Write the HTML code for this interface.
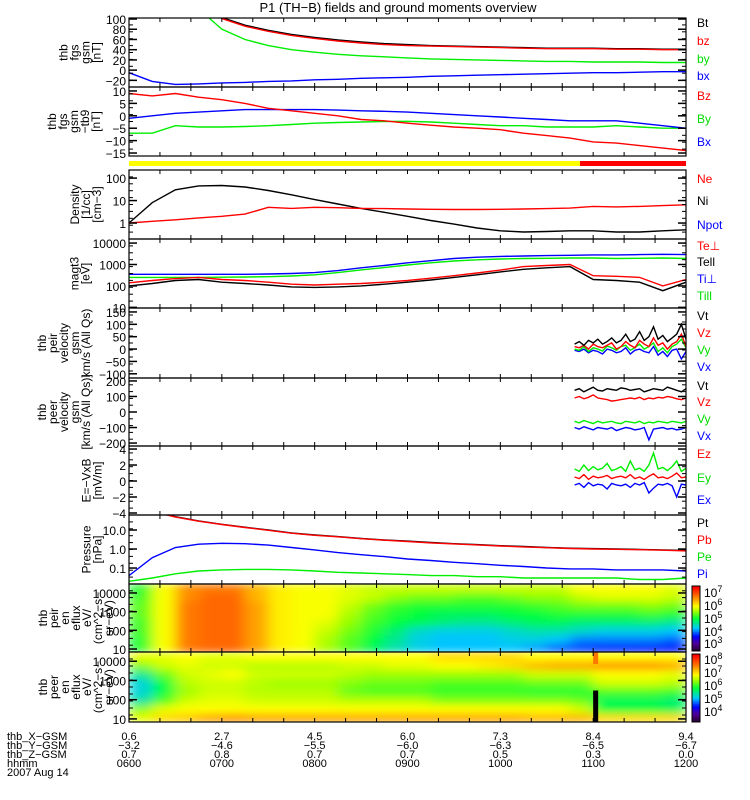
<!DOCTYPE html>
<html><head><meta charset="utf-8">
<style>
html,body{margin:0;padding:0;background:#fff;}
svg{display:block;font-family:"Liberation Sans",sans-serif;}
</style></head>
<body>
<svg id="chart" width="750" height="800" viewBox="0 0 750 800" xmlns="http://www.w3.org/2000/svg">
<defs>
<filter id="sblur" x="0" y="0" width="1" height="1"><feGaussianBlur stdDeviation="7 4" edgeMode="duplicate"/></filter>
</defs>
<text x="398" y="12" font-size="13" text-anchor="middle">P1 (TH−B) fields and ground moments overview</text>
</svg>
<script>
// ---------- data ----------
const T = [6,6.25,6.5,6.75,7,7.25,7.5,7.75,8,8.25,8.5,8.75,9,9.25,9.5,9.75,10,10.25,10.5,10.75,11,11.25,11.5,11.75,12];
const Bt = [300,250,200,160,103,88,78,70,64,59,55,52,50,48,47,46,45,44,43,43,43,42,42,41,41];
const bz = [298,248,198,158,101,86,76,68,62,57,53,50,48,47,46,45,44,43,42,42,42,41,41,40,40];
const by = [250,200,150,120,80,60,48,40,35,31,28,26,24,22,21,20,19,18,17,17,16,16,16,15,15];
const bx = [-5,-22,-28,-27,-25,-24,-22,-21,-19,-18,-16,-15,-14,-12,-11,-10,-9,-8,-7,-6,-5,-5,-4,-3,-3];
const dBz = [9,8,9,7.5,6.5,5,3,2,1,0,-1.5,-2,-3,-3.8,-4.5,-5,-5.6,-7,-8,-9,-10.5,-11,-12,-13,-14];
const dBx = [-1,0,1,1.5,2,2.5,2.5,2.5,2.5,2.3,2,1.8,1.5,1,0.5,0,-0.5,-1,-1.5,-2,-2,-2,-3,-4,-5];
const dBy = [-7,-7,-4,-4.5,-4.5,-4.3,-4,-3.5,-3,-2.7,-2.5,-2.3,-2.2,-2.5,-3,-3.5,-4,-4,-4.5,-4.5,-4.5,-4,-4.5,-5,-5];
const Ne = [1,1.2,1.4,1.7,2,2.5,5,4.5,5,4.8,4.5,4.4,4.2,4.1,4.0,4.0,4.1,4.2,4.4,4.6,5.5,5.2,5.5,6,6.5];
const Ni = [1,8,30,45,47,40,28,18,11,7,4.5,3,2,1.3,0.9,0.6,0.45,0.4,0.42,0.45,0.45,0.4,0.4,0.45,0.5];
const TiPerp = [350,350,350,350,350,350,360,380,420,520,700,900,1200,1500,1900,2200,2400,2500,2600,2700,2800,2800,2900,3000,2900];
const TiPar = [250,250,250,250,255,260,270,290,330,420,560,720,950,1200,1450,1650,1800,1900,1950,2000,2000,1900,1950,2000,1900];
const TePerp = [140,180,220,250,200,180,150,120,110,120,130,150,180,230,300,400,550,800,900,1000,300,280,250,100,200];
const TePar = [100,130,180,200,150,130,110,90,85,90,100,120,150,190,250,330,450,600,700,800,200,180,150,60,150];
const Pt = [200,100,50,30,20,14,10,7,5.5,4.5,3.6,3,2.6,2.2,1.9,1.7,1.5,1.35,1.2,1.1,1.05,1.0,0.95,0.9,0.85];
const Pb = [195,97,48,29,19.4,13.6,9.7,6.8,5.3,4.4,3.5,2.9,2.5,2.1,1.85,1.65,1.45,1.3,1.17,1.07,1.0,0.97,0.92,0.87,0.8];
const Pi = [0.04,0.35,1.2,1.8,2.0,1.9,1.6,1.2,0.9,0.65,0.5,0.4,0.3,0.25,0.2,0.17,0.14,0.12,0.1,0.09,0.09,0.08,0.08,0.08,0.07];
const Pe = [0.02,0.03,0.05,0.07,0.08,0.085,0.085,0.08,0.07,0.06,0.055,0.05,0.045,0.04,0.04,0.035,0.035,0.03,0.03,0.03,0.03,0.03,0.025,0.025,0.03];
const Tv = [10.8,10.85,10.9,10.95,11,11.05,11.1,11.15,11.2,11.25,11.3,11.35,11.4,11.45,11.5,11.55,11.6,11.65,11.7,11.75,11.8,11.85,11.9,11.95,12];
const iVt = [20,30,15,35,25,40,20,30,45,25,35,60,30,40,70,35,50,90,40,55,30,45,60,100,40];
const iVz = [10,5,15,0,20,10,5,15,25,0,10,30,15,5,35,20,10,45,15,25,0,20,30,60,10];
const iVy = [0,-5,10,-10,5,0,-8,12,5,-5,10,15,-5,5,20,0,10,25,-10,5,-15,10,20,40,5];
const iVx = [-5,-10,0,-15,-5,-10,-20,0,-5,-15,-10,5,-20,-5,0,-10,-15,10,-25,-10,-30,-5,0,-40,-10];
const eVt = [140,150,130,145,160,140,135,150,145,140,155,150,140,145,150,130,140,150,145,140,160,150,140,130,150];
const eVz = [90,100,85,95,110,90,85,80,70,75,80,85,90,85,95,80,90,85,95,90,100,95,85,80,90];
const eVy = [-60,-70,-55,-65,-75,-60,-70,-65,-60,-70,-75,-60,-65,-70,-60,-75,-65,-70,-60,-65,-70,-60,-65,-70,-60];
const eVx = [-100,-110,-95,-105,-115,-100,-105,-110,-100,-120,-110,-100,-105,-115,-110,-100,-180,-110,-105,-100,-110,-105,-115,-110,-100];
const Ez = [0.5,0.3,0.8,0.2,0.6,0.4,0.5,0.7,0.3,0.5,0.6,0.4,0.8,0.3,0.5,0.2,0.6,0.9,0.4,0.5,0.3,0.6,1.0,0.4,0.5];
const Ey = [1.5,1.2,2,1.3,1.8,1.4,1.6,2.2,1.3,1.5,1.8,1.2,2.5,1.4,1.6,1.2,2,3.5,1.5,1.7,1.3,1.8,2.5,1.2,1.6];
const Ex = [-0.5,-0.3,-0.8,-0.2,-0.6,-0.4,-0.5,-1,-0.3,-0.5,-0.6,-0.4,-0.8,-0.3,-0.5,-0.2,-1.5,-0.9,-0.4,-0.5,-0.3,-0.6,-2,-0.4,-0.5];
// spectrograms: log10 flux, 24 time bins (15 min), 8 energy rows bottom->top
const ionSpec = [
[5.2,5.2,5.3,5.3,5.4,5.4,5.3,5.2],[6.0,6.0,6.0,6.0,6.0,6.0,6.0,6.0],[6.7,6.7,6.7,6.7,6.7,6.7,6.6,6.6],
[6.8,6.8,6.8,6.8,6.8,6.8,6.8,6.7],[6.8,6.8,6.8,6.8,6.8,6.8,6.8,6.7],[6.5,6.5,6.5,6.5,6.5,6.5,6.4,6.4],
[6.1,6.1,6.1,6.1,6.1,6.1,6.1,6.1],[6.0,6.0,6.0,6.0,6.0,6.0,6.0,6.0],[5.7,5.7,5.8,5.9,6.0,6.0,6.0,6.0],
[5.4,5.4,5.5,5.6,5.7,5.8,5.9,5.9],[5.0,5.1,5.2,5.3,5.4,5.5,5.8,5.8],[4.7,4.8,4.9,5.1,5.2,5.3,5.6,5.8],
[4.5,4.5,4.6,5.0,5.1,5.2,5.5,5.8],[4.4,4.4,4.5,4.9,5.0,5.2,5.5,5.8],[4.4,4.4,4.5,4.8,5.0,5.2,5.4,5.8],
[4.4,4.4,4.5,4.8,5.0,5.2,5.4,5.8],[4.4,4.5,4.6,4.9,5.1,5.2,5.5,5.8],[4.3,4.5,4.7,5.0,5.1,5.3,5.6,5.8],
[4.1,4.4,4.7,5.0,5.2,5.4,5.6,5.8],[4.0,4.2,4.6,4.9,5.2,5.5,5.8,6.0],[3.9,4.2,4.5,4.9,5.2,5.5,5.9,6.0],
[3.9,4.2,4.5,4.9,5.2,5.5,5.9,6.0],[3.8,4.2,4.5,4.9,5.3,5.6,5.9,6.0],[3.8,4.1,4.4,4.8,5.2,5.5,5.8,5.9]];
const eleSpec = [
[6.9,6.5,5.6,5.4,5.4,5.7,6.5,6.9],[7.2,6.9,6.3,6.0,6.0,6.4,6.8,6.9],[7.3,7.0,6.8,6.6,6.7,6.8,6.9,7.0],
[7.5,7.0,6.9,6.8,6.8,6.9,6.8,6.9],[7.6,7.0,6.9,6.8,6.8,7.0,6.8,6.9],[7.5,7.0,6.8,6.7,6.7,6.8,6.7,7.0],
[7.5,7.0,6.8,6.7,6.6,6.8,6.7,7.0],[7.5,7.0,6.8,6.7,6.6,6.8,6.7,7.0],[7.5,7.0,6.8,6.7,6.6,6.8,6.7,7.0],
[7.5,7.0,6.7,6.4,6.5,6.7,6.8,7.0],[7.5,7.0,6.7,6.3,6.4,6.6,6.8,7.0],[7.5,7.0,6.7,6.3,6.4,6.6,6.9,7.0],
[7.5,7.0,6.7,6.3,6.4,6.6,6.9,7.0],[7.5,7.0,6.5,6.2,6.3,6.6,7.0,7.2],[7.5,7.0,6.5,6.2,6.3,6.6,7.0,7.2],
[7.5,7.0,6.5,6.2,6.3,6.6,7.1,7.2],[7.5,7.0,6.5,6.2,6.3,6.6,7.2,7.2],[7.4,7.0,6.5,6.1,6.4,6.8,7.4,7.0],
[7.4,7.0,6.5,6.1,6.4,6.8,7.5,7.0],[7.4,6.8,6.4,6.1,6.4,6.8,7.5,7.0],[7.2,6.0,5.9,6.3,6.8,7.0,7.6,7.0],
[7.2,6.0,5.9,6.3,6.8,7.0,7.6,7.0],[7.2,6.0,5.9,6.3,6.8,7.0,7.6,7.0],[7.2,5.9,5.8,6.2,6.7,6.9,7.5,7.0]];
const hourTicks = ['0600','0700','0800','0900','1000','1100','1200'];
const xGsm = ['0.6','2.7','4.5','6.0','7.3','8.4','9.4'];
const yGsm = ['−3.2','−4.6','−5.5','−6.0','−6.3','−6.5','−6.7'];
const zGsm = ['0.7','0.8','0.7','0.7','0.5','0.3','0.0'];

// ---------- helpers ----------
const NS = 'http://www.w3.org/2000/svg';
const svg = document.getElementById('chart');
const X0 = 129, X1 = 686;
const xs = t => X0 + (t - 6) / 6 * (X1 - X0);
function mk(tag, attrs, parent) {
  const e = document.createElementNS(NS, tag);
  for (const k in attrs) e.setAttribute(k, attrs[k]);
  (parent || svg).appendChild(e);
  return e;
}
const panels = [];
function panel(name, top, bot, vmin, vmax, log) {
  const f = v => {
    const vv = log ? Math.log10(Math.max(v, 1e-6)) : v;
    return bot - (vv - vmin) / (vmax - vmin) * (bot - top);
  };
  const id = 'clip' + panels.length;
  const cp = mk('clipPath', {id: id});
  mk('rect', {x: X0, y: top, width: X1 - X0, height: bot - top}, cp);
  const g = mk('g', {'clip-path': 'url(#' + id + ')'});
  
  
  const p = {top, bot, f, g, name, log, vmin, vmax};
  panels.push(p);
  return p;
}
function line(p, ts, vs, color, name) {
  const pts = ts.map((t, i) => xs(t).toFixed(1) + ',' + p.f(vs[i]).toFixed(1)).join(' ');
  const el = mk('polyline', {points: pts, fill: 'none', stroke: color, 'stroke-width': 1.4}, p.g);
  
  
}
function frame(p, labels, vals) {
  const r = mk('rect', {x: X0, y: p.top, width: X1 - X0, height: p.bot - p.top, fill: 'none', stroke: '#000', 'stroke-width': 1.2});
  
  
  for (let m = 0; m <= 360; m += 20) {
    const x = xs(6 + m / 60);
    mk('line', {x1: x, x2: x, y1: p.top, y2: p.top + 4, stroke: '#000'});
    mk('line', {x1: x, x2: x, y1: p.bot, y2: p.bot - 4, stroke: '#000'});
  }
  labels.forEach((lab, i) => {
    const y = p.f(vals[i]);
    mk('line', {x1: X0, x2: X0 + 8, y1: y, y2: y, stroke: '#000', 'stroke-width': 1.5});
    mk('line', {x1: X1, x2: X1 - 8, y1: y, y2: y, stroke: '#000', 'stroke-width': 1.5});
    const t = mk('text', {x: X0 - 3, y: y + 5, 'font-size': 12, 'text-anchor': 'end'});
    t.textContent = lab;
    
    
  });
  const n = 10;
  for (let i = 1; i < n; i++) {
    const y = p.top + (p.bot - p.top) * i / n;
    mk('line', {x1: X0, x2: X0 + 4, y1: y, y2: y, stroke: '#000'});
    mk('line', {x1: X1, x2: X1 - 4, y1: y, y2: y, stroke: '#000'});
  }
}
function ylabel(p, lines, xc, name) {
  const cy = (p.top + p.bot) / 2;
  lines.forEach((s, i) => {
    const x = xc - (lines.length - 1) * 5.5 + i * 11;
    const t = mk('text', {x: x, y: cy, 'font-size': 12, 'text-anchor': 'middle', transform: 'rotate(-90 ' + x + ' ' + cy + ')', dy: 4});
    t.textContent = s;
    
    
  });
}
function legend(items, name) {
  items.forEach(([s, c, y]) => {
    const t = mk('text', {x: 697, y: y, 'font-size': 12, fill: c});
    t.textContent = s;
    
    
  });
}
const cstops = [[0,[40,0,50]],[0.12,[80,0,160]],[0.22,[0,0,255]],[0.35,[0,200,255]],[0.5,[0,255,60]],[0.62,[160,255,0]],[0.7,[255,255,0]],[0.85,[255,120,0]],[1,[255,0,0]]];
function cmap(t) {
  t = Math.max(0, Math.min(1, t));
  for (let i = 1; i < cstops.length; i++) {
    if (t <= cstops[i][0]) {
      const [a, ca] = cstops[i - 1], [b, cb] = cstops[i];
      const u = (t - a) / (b - a);
      return 'rgb(' + ca.map((v, k) => Math.round(v + (cb[k] - v) * u)).join(',') + ')';
    }
  }
  return 'rgb(255,0,0)';
}
function spectro(p, data, fmin, fmax, name) {
  const g = mk('g', {filter: 'url(#sblur)'}, p.g);
  
  
  const nE = data[0].length, eh = (p.vmax - p.vmin) / nE;
  data.forEach((col, ti) => {
    const xa = xs(6 + ti * 0.25), xb = xs(6 + (ti + 1) * 0.25);
    col.forEach((v, ei) => {
      const ya = p.f(Math.pow(10, p.vmin + (ei + 1) * eh)), yb = p.f(Math.pow(10, p.vmin + ei * eh));
      const r = mk('rect', {x: xa, y: ya, width: xb - xa + 0.5, height: yb - ya + 0.5, fill: cmap((v - fmin) / (fmax - fmin))}, g);
      
      
    });
  });
}
function colorbar(top, bot, labels, name) {
  const n = 40;
  for (let i = 0; i < n; i++) {
    const y = bot - (i + 1) * (bot - top) / n;
    mk('rect', {x: 692, y: y, width: 8, height: (bot - top) / n + 0.5, fill: cmap(i / (n - 1))});
  }
  const r = mk('rect', {x: 692, y: top, width: 8, height: bot - top, fill: 'none', stroke: '#000'});
  
  
  labels.forEach(([exp, y]) => {
    const t = mk('text', {x: 704, y: y, 'font-size': 12});
    t.textContent = '10';
    const s = mk('tspan', {dy: -5, 'font-size': 9}, t);
    s.textContent = exp;
    
    
  });
}

// ---------- panel 1 ----------
const p1 = panel('fgs-gsm', 18, 87, -33, 102, false);
line(p1, T, bx, '#0000ff', 'bx-line');
line(p1, T, by, '#00ee00', 'by-line');
line(p1, T, Bt, '#000', 'bt-line');
line(p1, T, bz, '#ff0000', 'bz-line');
frame(p1, ['100','80','60','40','20','0','−20'], [100,80,60,40,20,0,-20]);
ylabel(p1, ['thb','fgs','gsm','[nT]'], 80, 'fgs-y-axis-title');
legend([['Bt','#000',27],['bz','#ff0000',45],['by','#00dd00',63],['bx','#0000ff',80]], 'p1');

// ---------- panel 2 ----------
const p2 = panel('fgs-detrended', 87, 156, -16.2, 11.6, false);
line(p2, T, dBy, '#00ee00', 'dby-line');
line(p2, T, dBx, '#0000ff', 'dbx-line');
line(p2, T, dBz, '#ff0000', 'dbz-line');
frame(p2, ['10','5','0','−5','−10','−15'], [10,5,0,-5,-10,-15]);
ylabel(p2, ['thb','fgs','gsm','−tb9','[nT]'], 74, 'fgs-detrended-y-axis-title');
legend([['Bz','#ff0000',100],['By','#00dd00',123],['Bx','#0000ff',146]], 'p2');

// mode bar
const mb1 = mk('rect', {x: X0, y: 161, width: 580 - X0, height: 5, fill: '#ffff00'});
 
const mb2 = mk('rect', {x: 580, y: 161, width: X1 - 580, height: 5, fill: '#ff0000'});
 

// ---------- panel 3 ----------
const p3 = panel('density', 170, 239, -0.71, 2.36, true);
line(p3, T, Ni, '#000', 'ni-line');
line(p3, T, Ne, '#ff0000', 'ne-line');
frame(p3, ['100','10','1'], [100,10,1]);
ylabel(p3, ['Density','[1/cc]','[cm−3]'], 86, 'density-y-axis-title');
legend([['Ne','#ff0000',183],['Ni','#000',205],['Npot','#0000ff',229]], 'p3');

// ---------- panel 4 ----------
const p4 = panel('temperature', 239, 308, 0.97, 4.19, true);
line(p4, T, TiPerp, '#0000ff', 'ti-perp-line');
line(p4, T, TiPar, '#00ee00', 'ti-par-line');
line(p4, T, TePerp, '#ff0000', 'te-perp-line');
line(p4, T, TePar, '#000', 'te-par-line');
frame(p4, ['10000','1000','100','10'], [10000,1000,100,10]);
ylabel(p4, ['magt3','[eV]'], 80, 'temperature-y-axis-title');
legend([['Te⊥','#ff0000',250],['Tell','#000',266],['Ti⊥','#0000ff',283],['Till','#00dd00',300]], 'p4');

// ---------- panel 5 ----------
const p5 = panel('ion-velocity', 308, 378, -117, 166, false);
line(p5, Tv, iVx, '#0000ff', 'ion-vx-line');
line(p5, Tv, iVy, '#00ee00', 'ion-vy-line');
line(p5, Tv, iVz, '#ff0000', 'ion-vz-line');
line(p5, Tv, iVt, '#000', 'ion-vt-line');
frame(p5, ['150','100','50','0','−50','−100'], [150,100,50,0,-50,-100]);
ylabel(p5, ['thb','peir','velocity','gsm','km/s (All Qs)'], 64, 'ion-velocity-y-axis-title');
legend([['Vt','#000',320],['Vz','#ff0000',337],['Vy','#00dd00',354],['Vx','#0000ff',371]], 'p5');

// ---------- panel 6 ----------
const p6 = panel('electron-velocity', 378, 446, -219, 219, false);
line(p6, Tv, eVx, '#0000ff', 'ele-vx-line');
line(p6, Tv, eVy, '#00ee00', 'ele-vy-line');
line(p6, Tv, eVz, '#ff0000', 'ele-vz-line');
line(p6, Tv, eVt, '#000', 'ele-vt-line');
frame(p6, ['200','100','0','−100','−200'], [200,100,0,-100,-200]);
ylabel(p6, ['thb','peer','velocity','gsm','[km/s (All Qs)]'], 64, 'electron-velocity-y-axis-title');
legend([['Vt','#000',390],['Vz','#ff0000',406],['Vy','#00dd00',423],['Vx','#0000ff',440]], 'p6');

// ---------- panel 7 ----------
const p7 = panel('efield', 446, 515, -4.25, 4.38, false);
line(p7, Tv, Ey, '#00ee00', 'ey-line');
line(p7, Tv, Ez, '#ff0000', 'ez-line');
line(p7, Tv, Ex, '#0000ff', 'ex-line');
frame(p7, ['4','2','0','−2','−4'], [4,2,0,-2,-4]);
ylabel(p7, ['E=−VxB','[mV/m]'], 92, 'efield-y-axis-title');
legend([['Ez','#ff0000',458],['Ey','#00dd00',482],['Ex','#0000ff',504]], 'p7');

// ---------- panel 8 ----------
const p8 = panel('pressure', 515, 584, -1.84, 1.79, true);
line(p8, T, Pe, '#00ee00', 'pe-line');
line(p8, T, Pi, '#0000ff', 'pi-line');
line(p8, T, Pt, '#000', 'pt-line');
line(p8, T, Pb, '#ff0000', 'pb-line');
frame(p8, ['10.0','1.0','0.1'], [10,1,0.1]);
ylabel(p8, ['Pressure','[nPa]'], 92, 'pressure-y-axis-title');
legend([['Pt','#000',527],['Pb','#ff0000',544],['Pe','#00dd00',561],['Pi','#0000ff',578]], 'p8');

// ---------- panel 9 ----------
const p9 = panel('ion-spectrogram', 584, 652, 0.84, 4.48, true);
spectro(p9, ionSpec, 2.8, 7.4, 'ion-spectrogram');
frame(p9, ['10000','1000','100','10'], [10000,1000,100,10]);
ylabel(p9, ['thb','peir','en','eflux','eV/','(cm^2−s−','sr−eV)'], 76, 'ion-spectrogram-y-axis-title');
colorbar(586, 651, [['7',597],['6',610],['5',623],['4',636],['3',648]], 'ion-colorbar');

// ---------- panel 10 ----------
const p10 = panel('electron-spectrogram', 652, 722, 0.84, 4.48, true);
spectro(p10, eleSpec, 3.5, 8.5, 'electron-spectrogram');
const gap = mk('rect', {x: xs(11.0), y: p10.f(300), width: 5, height: p10.bot - p10.f(300), fill: '#000'}, p10.g);


const gap2 = mk('rect', {x: xs(11.0), y: p10.top, width: 5, height: 12, fill: '#ff7800'}, p10.g);


frame(p10, ['10000','1000','100','10'], [10000,1000,100,10]);
ylabel(p10, ['thb','peer','en','eflux','eV/','(cm^2−s−','sr−eV)'], 76, 'electron-spectrogram-y-axis-title');
colorbar(654, 722, [['8',664],['7',677],['6',690],['5',703],['4',716]], 'electron-colorbar');

// ---------- bottom axis labels ----------
const rows = [['thb_X−GSM', xGsm, 740], ['thb_Y−GSM', yGsm, 749], ['thb_Z−GSM', zGsm, 758], ['hhmm', hourTicks, 767]];
rows.forEach(([lab, vals, y]) => {
  const t = mk('text', {x: 7, y: y, 'font-size': 11});
  t.textContent = lab;
  
  
  vals.forEach((v, i) => {
    const tt = mk('text', {x: xs(6 + i), y: y, 'font-size': 11, 'text-anchor': 'middle'});
    tt.textContent = v;
    
    
  });
});
const dt = mk('text', {x: 7, y: 776, 'font-size': 11});
dt.textContent = '2007 Aug 14';


</script>
</body></html>
